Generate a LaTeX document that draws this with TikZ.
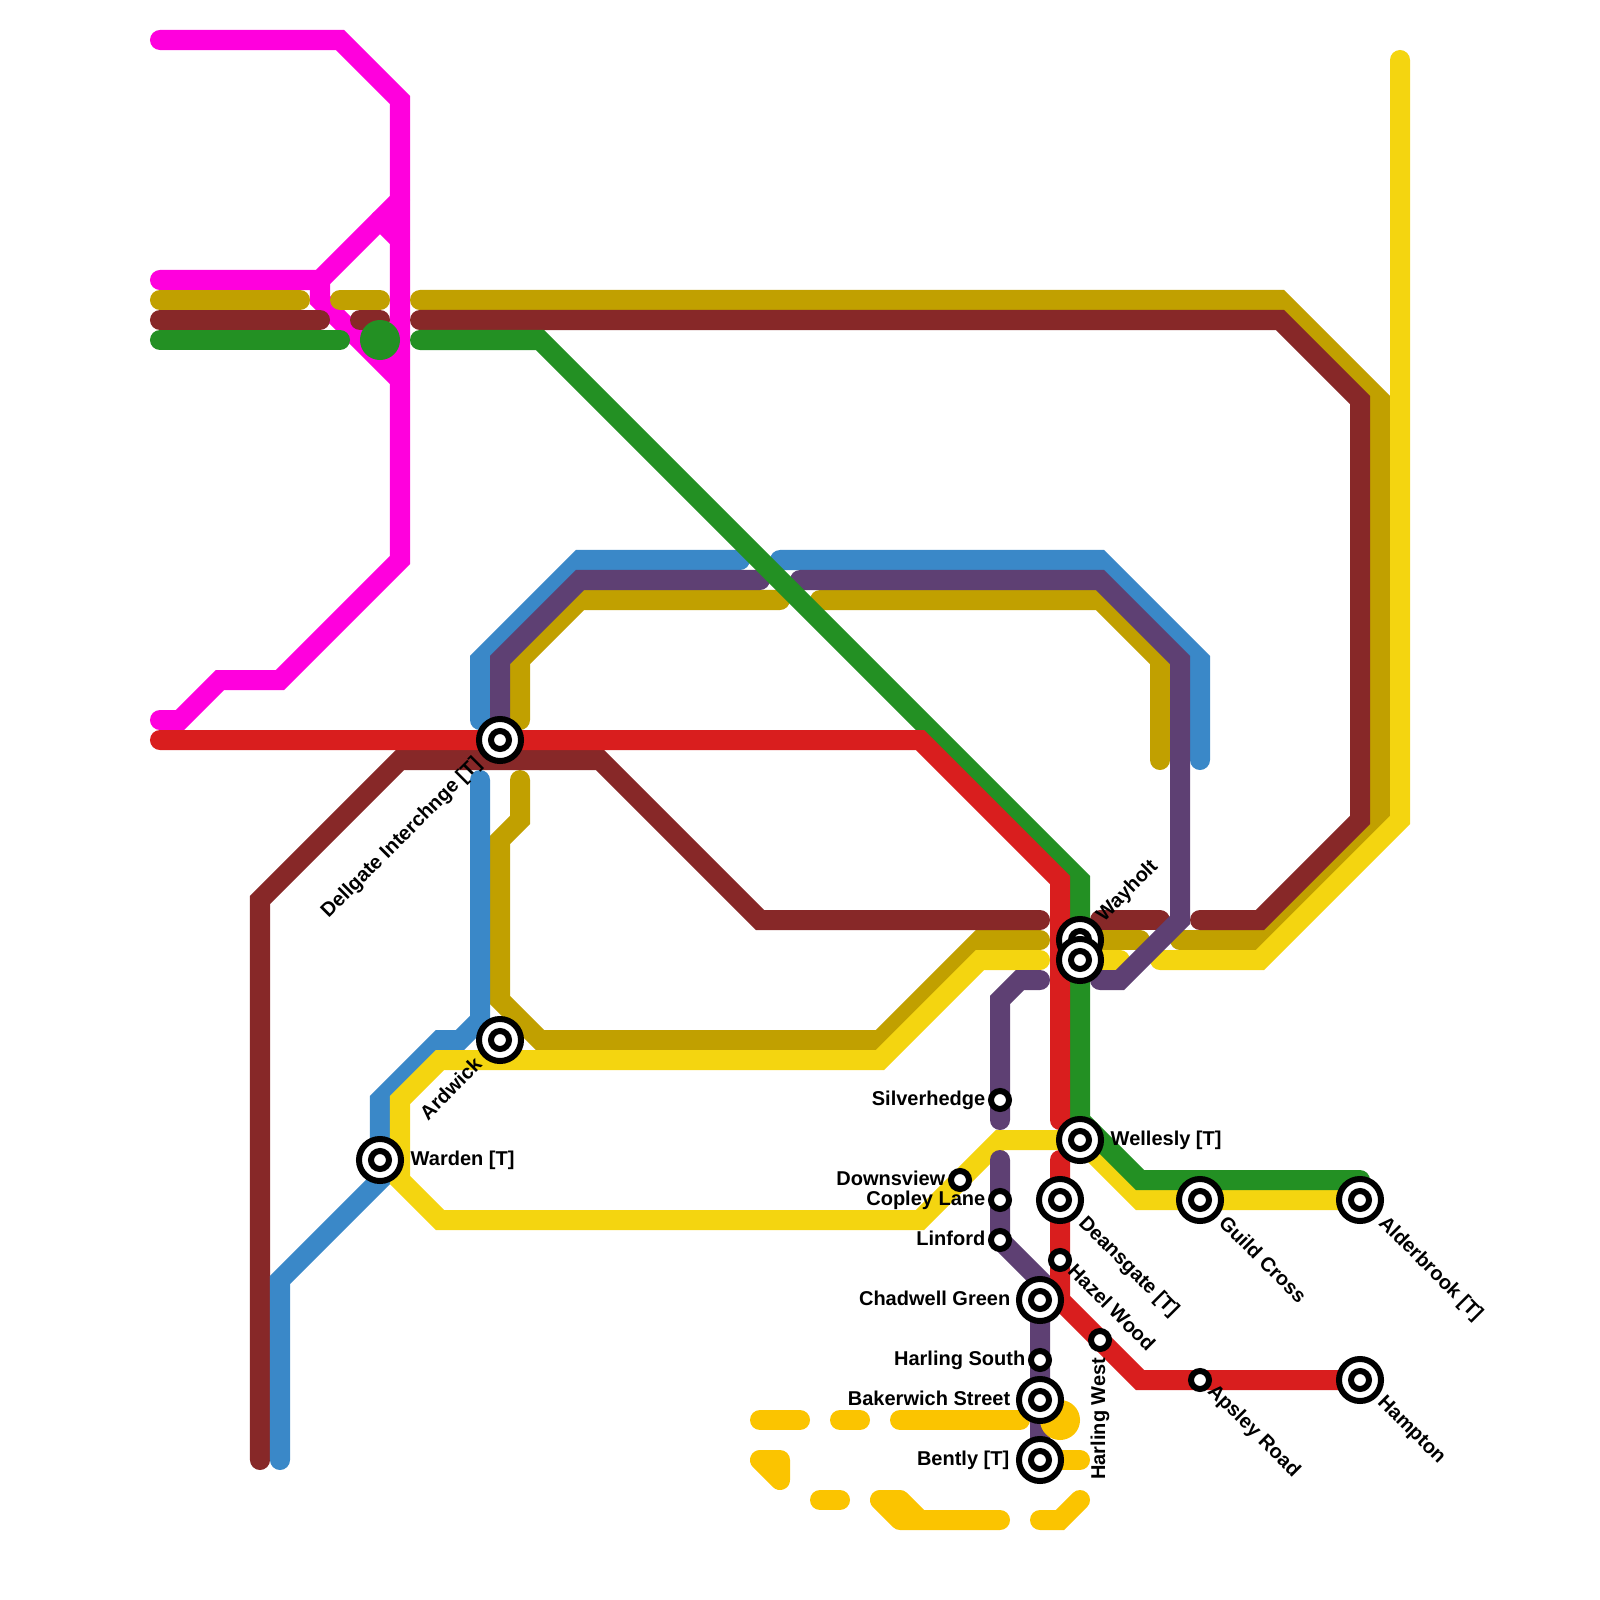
\documentclass[tikz,border=0pt]{standalone}
\usepackage{fontspec}
\setmainfont{Liberation Sans}
\usetikzlibrary{positioning,backgrounds}
\definecolor{pinkln}{HTML}{FF00DD}
\definecolor{goldln}{HTML}{C1A000}
\definecolor{brownln}{HTML}{872828}
\definecolor{greenln}{HTML}{239023}
\definecolor{blueln}{HTML}{3A88C8}
\definecolor{purpleln}{HTML}{5E4073}
\definecolor{redln}{HTML}{D91E1E}
\definecolor{yellowln}{HTML}{F4D510}
\definecolor{amberln}{HTML}{FBC400}
\begin{document}
\begin{tikzpicture}[
  x=0.01cm, y=-0.01cm,
  font=\fontsize{5.69}{6.5}\selectfont\bfseries,
  ln/.style      ={line width=2mm, line cap=round},
  bigstn/.style  ={circle, draw=black, fill=white, line width=0.6mm, minimum size=4.2mm, inner sep=0pt},
  smallstn/.style={circle, draw=black, fill=white, line width=0.6mm, minimum size=1.8mm, inner sep=0pt},
  lbl/.style     ={inner sep=0pt, text height=1mm, text depth=0pt},
  lbldown/.style ={lbl, rotate=-45, anchor=west},
  lblup/.style   ={lbl, rotate=45, anchor=west},
  lblback/.style ={lbl, rotate=45, anchor=east}
]
\useasboundingbox (0,0) rectangle (1600,1600);
\foreach \name/\where in {dellgate/{500,740}, ardwick/{500,1040}, warden/{380,1160}, wayholt/{1080,940},
    wayholtb/{1080,960}, wellesly/{1080,1140}, deansgate/{1060,1200}, guild/{1200,1200}, alderbrook/{1360,1200},
    chadwell/{1040,1300}, bakerwich/{1040,1400}, bently/{1040,1460}, hampton/{1360,1380}} {
  \node[bigstn] (\name) at (\where) {};
  \node[smallstn] (\name in) at (\where) {};
}
\foreach \name/\where in {silverhedge/{1000,1100}, downsview/{960,1180}, copley/{1000,1200}, linford/{1000,1240},
    hazel/{1060,1260}, harlingw/{1100,1340}, harlings/{1040,1360}, apsley/{1200,1380}}
  \node[smallstn] (\name) at (\where) {};
\node[lbl, right=0.6mm of warden] (wardenl) {Warden [T]};
\node[lbl, right=0.6mm of wellesly] (welleslyl) {Wellesly [T]};
\node[lbl, left=0.2mm of silverhedge] (silverhedgel) {Silverhedge};
\node[lbl, left=0.2mm of downsview] (downsviewl) {Downsview};
\node[lbl, left=0.2mm of copley] (copleyl) {Copley Lane};
\node[lbl, left=0.2mm of linford] (linfordl) {Linford};
\node[lbl, left=0.5mm of chadwell] (chadwelll) {Chadwell Green};
\node[lbl, left=0.2mm of harlings] (harlingsl) {Harling South};
\node[lbl, left=0.5mm of bakerwich] (bakerwichl) {Bakerwich Street};
\node[lbl, left=0.6mm of bently] (bentlyl) {Bently [T]};
\node[lblback] (dellgatel) at (479,761) {Dellgate Interchnge [T]};
\node[lblback] (ardwickl) at (480,1062) {Ardwick};
\node[lblup] (wayholtl) at (1100,919) {Wayholt};
\node[lbldown] (deansgatel) at (1081,1220) {Deansgate [T]};
\node[lbldown] (hazell) at (1070,1268) {Hazel Wood};
\node[lbldown] (guildl) at (1221,1220) {Guild Cross};
\node[lbldown] (alderbrookl) at (1381,1220) {Alderbrook [T]};
\node[lbldown] (apsleyl) at (1210,1388) {Apsley Road};
\node[lbldown] (hamptonl) at (1380,1399) {Hampton};
\node[lbl, rotate=90, anchor=east] (harlingwl) at (1100,1357) {Harling West};
\begin{scope}[on background layer]
\draw[ln, pinkln] (160,40) -- (340,40) -- (400,100) -- (400,560) -- (280,680) -- (220,680) -- (180,720) -- (160,720);
\draw[ln, pinkln] (160,280) -- (320,280) -- (400,200);
\draw[ln, pinkln] (380,220) -- (400,240);
\draw[ln, pinkln] (320,280) -- (320,300) -- (400,380);
\draw[ln, goldln] (160,300) -- (300,300); \draw[ln, goldln] (340,300) -- (380,300);
\draw[ln, goldln] (420,300) -- (1280,300) -- (1380,400) -- (1380,820) -- (1260,940) -- (1180,940);
\draw[ln, goldln] (520,720) -- (520,660) -- (580,600) -- (780,600);
\draw[ln, goldln] (820,600) -- (1100,600) -- (1160,660) -- (1160,760);
\draw[ln, goldln] (1040,940) -- (980,940) -- (880,1040) -- (540,1040) -- (500,1000) -- (500,840) -- (520,820) -- (520,780);
\draw[ln, goldln] (1100,940) -- (1140,940);
\draw[ln, brownln] (160,320) -- (320,320); \draw[ln, brownln] (360,320) -- (380,320);
\draw[ln, brownln] (420,320) -- (1280,320) -- (1360,400) -- (1360,820) -- (1260,920) -- (1200,920);
\draw[ln, brownln] (260,1460) -- (260,900) -- (400,760) -- (600,760) -- (760,920) -- (1040,920);
\draw[ln, brownln] (1100,920) -- (1160,920);
\draw[ln, blueln] (480,720) -- (480,660) -- (580,560) -- (740,560);
\draw[ln, blueln] (780,560) -- (1100,560) -- (1200,660) -- (1200,760);
\draw[ln, blueln] (480,780) -- (480,1020) -- (460,1040) -- (440,1040) -- (380,1100) -- (380,1180) -- (280,1280) -- (280,1460);
\draw[ln, yellowln] (1400,60) -- (1400,820) -- (1260,960) -- (1160,960);
\draw[ln, yellowln] (1040,960) -- (980,960) -- (880,1060) -- (440,1060) -- (400,1100) -- (400,1180) -- (440,1220) -- (920,1220) -- (1000,1140) -- (wellesly.center) -- (1140,1200) -- (alderbrook.center);
\draw[ln, yellowln] (1100,960) -- (1120,960);
\draw[ln, purpleln] (dellgate.center) -- (500,660) -- (580,580) -- (760,580);
\draw[ln, purpleln] (800,580) -- (1100,580) -- (1180,660) -- (1180,920) -- (1120,980) -- (1100,980);
\draw[ln, purpleln] (1040,980) -- (1020,980) -- (1000,1000) -- (1000,1120);
\draw[ln, purpleln] (1000,1160) -- (linford.center) -- (1040,1280) -- (bently.center);
\draw[ln, greenln] (160,340) -- (340,340);
\draw[ln, greenln] (420,340) -- (540,340) -- (1080,880) -- (1080,1120) -- (1140,1180) -- (1360,1180);
\fill[greenln] (380,340) circle[radius=2mm];
\draw[ln, redln] (160,740) -- (920,740) -- (1060,880) -- (1060,1120);
\draw[ln, redln] (1060,1160) -- (1060,1300) -- (1140,1380) -- (hampton.center);
\draw[ln, amberln] (760,1420) -- (800,1420); \draw[ln, amberln] (840,1420) -- (860,1420);
\draw[ln, amberln] (900,1420) -- (1020,1420);
\fill[amberln] (1060,1420) circle[radius=2mm];
\draw[ln, amberln] (1060,1460) -- (1080,1460);
\draw[ln, amberln, line join=round] (760,1460) -- (780,1460) -- (780,1480) -- cycle;
\draw[ln, amberln] (820,1500) -- (840,1500);
\draw[ln, amberln, line join=round] (880,1500) -- (900,1500) -- (920,1520) -- (1000,1520) -- (900,1520) -- cycle;
\draw[ln, amberln] (1040,1520) -- (1060,1520) -- (1080,1500);
\end{scope}
\end{tikzpicture}
\end{document}
